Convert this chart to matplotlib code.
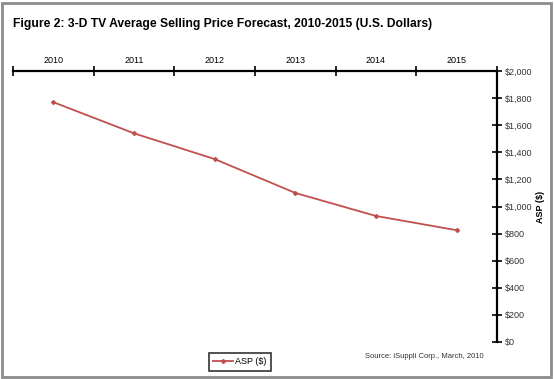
import matplotlib.pyplot as plt
from matplotlib.patches import Rectangle
from matplotlib.ticker import FixedLocator, FuncFormatter

plt.rcParams['font.family'] = ['Liberation Sans', 'DejaVu Sans']

years = ['2010', '2011', '2012', '2013', '2014', '2015']
asp = [1770, 1540, 1350, 1100, 930, 825]
y_ticks = list(range(0, 2001, 200))

fig = plt.figure(figsize=(5.54, 3.79), dpi=100, facecolor='white')
ax = fig.add_axes([13/554, 37/379, (497-13)/554, (342-71)/379])

x = list(range(len(years)))
ax.plot(x, asp, color='#C0504D', linewidth=1.3, marker='D', markersize=2, label='ASP ($)')

ax.set_xlim(-0.5, len(years) - 0.5)
ax.set_ylim(0, 2000)

for s in ['left', 'bottom']:
    ax.spines[s].set_visible(False)
for s in ['top', 'right']:
    ax.spines[s].set_linewidth(1.6)
    ax.spines[s].set_color('black')

ax.xaxis.tick_top()
ax.xaxis.set_major_locator(FixedLocator([i - 0.5 for i in range(len(years) + 1)]))
ax.xaxis.set_major_formatter(FuncFormatter(lambda v, p: ''))
ax.set_xticks(x, years, minor=True)
ax.tick_params(axis='x', which='major', direction='inout', length=7, width=1.2, top=True, bottom=False)
ax.tick_params(axis='x', which='minor', length=0, labelsize=6.5, pad=4, top=True, bottom=False, labeltop=True, labelbottom=False)

ax.yaxis.tick_right()
ax.set_yticks(y_ticks)
ax.yaxis.set_major_formatter(FuncFormatter(lambda v, p: '${:,.0f}'.format(v)))
ax.tick_params(axis='y', direction='inout', length=7, width=1.2, labelsize=6.5, labelcolor='#333333', pad=2)
ax.yaxis.set_label_position('right')
ax.set_ylabel('ASP ($)', fontsize=6.5, fontweight='bold', labelpad=3)

ax.set_facecolor('none')

fig.text(13/554, 1 - 24/379, 'Figure 2: 3-D TV Average Selling Price Forecast, 2010-2015 (U.S. Dollars)',
         fontsize=8.7, fontweight='bold', va='center', ha='left')
fig.text(484/554, 1 - 357/379, 'Source: iSuppli Corp., March, 2010', fontsize=5.5,
         ha='right', va='center', color='#333333')

leg = ax.legend(loc='center', bbox_to_anchor=(240/554, 1 - 362/379), bbox_transform=fig.transFigure,
                fontsize=6.5, frameon=True, fancybox=False, edgecolor='black', handlelength=2.2,
                borderpad=0.55, handletextpad=0.2, borderaxespad=0)
leg.get_frame().set_linewidth(1.2)

fig.patches.append(Rectangle((2/554, 2/379), 549/554, 374/379, transform=fig.transFigure,
                             fill=False, edgecolor='#8c8c8c', linewidth=2))

fig.savefig('out.png', dpi=100)
